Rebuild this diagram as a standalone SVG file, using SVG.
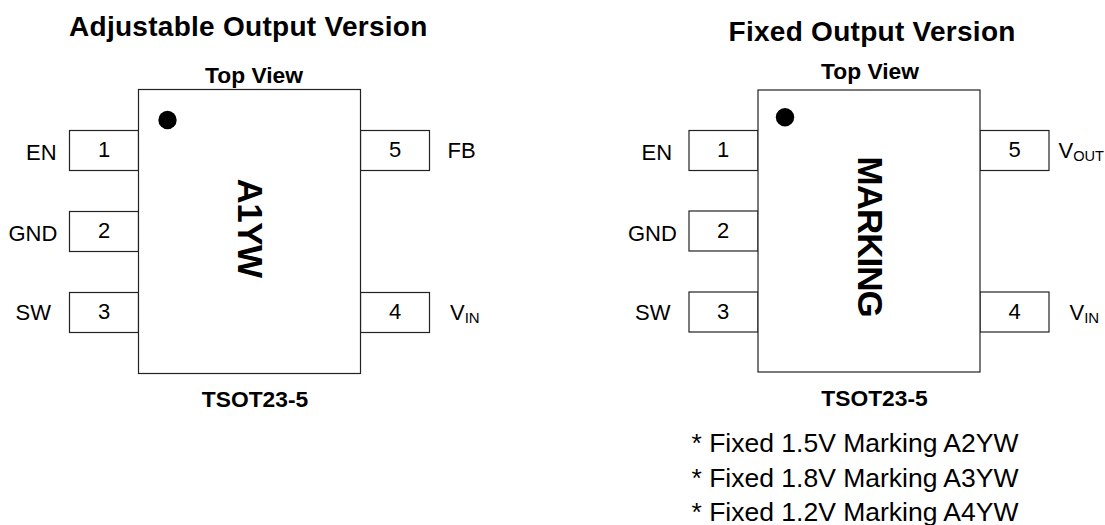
<svg xmlns="http://www.w3.org/2000/svg" width="1105" height="525" viewBox="0 0 1105 525">
<style>
text{font-family:"Liberation Sans",Arial,sans-serif;fill:#000}
.t{font-size:28px;font-weight:bold;letter-spacing:.28px}
.h{font-size:22.8px;font-weight:bold}
.l{font-size:22px}
.m{font-size:35px;font-weight:bold}
.f{font-size:26.5px}
.c{text-anchor:middle}
.s{font-size:15px}
.b{fill:#fff;stroke:#222;stroke-width:1.2}
</style>
<rect width="1105" height="525" fill="#fff"/>
<g id="connectors"></g>
<g id="title-left"><text class="t" x="69" y="35.5">Adjustable Output Version</text></g>
<g id="topview-left"><text class="h c" x="254" y="82.5">Top View</text></g>
<g id="pin1-left"><rect class="b" x="69.5" y="130.5" width="69" height="40"/><text class="l c" x="104" y="157">1</text></g>
<g id="pin2-left"><rect class="b" x="69.5" y="211.5" width="69" height="40"/><text class="l c" x="104" y="237.5">2</text></g>
<g id="pin3-left"><rect class="b" x="69.5" y="292.5" width="69" height="40"/><text class="l c" x="104" y="319">3</text></g>
<g id="pin5-left"><rect class="b" x="360.5" y="130.5" width="69" height="40"/><text class="l c" x="395" y="157">5</text></g>
<g id="pin4-left"><rect class="b" x="360.5" y="292.5" width="69" height="40"/><text class="l c" x="395" y="319">4</text></g>
<g id="body-left"><rect class="b" x="138.5" y="89.5" width="222" height="284"/><circle cx="167.5" cy="120" r="9.2"/>
<text class="m" transform="translate(238 178.5) rotate(90)" style="letter-spacing:-.5px">A1YW</text></g>
<g id="labels-left">
<text class="l" x="26" y="159.5">EN</text><text class="l" x="8.5" y="240.5">GND</text><text class="l" x="15.5" y="320">SW</text>
<text class="l" x="447.5" y="157.5">FB</text><text class="l" x="450" y="320">V<tspan class="s" dy="3">IN</tspan></text>
</g>
<g id="tsot-left"><text class="h c" x="255" y="406.5">TSOT23-5</text></g>

<g id="title-right"><text class="t" x="728.5" y="40.5">Fixed Output Version</text></g>
<g id="topview-right"><text class="h c" x="870" y="78.5">Top View</text></g>
<g id="pin1-right"><rect class="b" x="689" y="130.5" width="69" height="40"/><text class="l c" x="723" y="157">1</text></g>
<g id="pin2-right"><rect class="b" x="689" y="211" width="69" height="40"/><text class="l c" x="723" y="237.5">2</text></g>
<g id="pin3-right"><rect class="b" x="689" y="292" width="69" height="40"/><text class="l c" x="723" y="318.5">3</text></g>
<g id="pin5-right"><rect class="b" x="980" y="130.5" width="69" height="40"/><text class="l c" x="1014.5" y="157">5</text></g>
<g id="pin4-right"><rect class="b" x="980" y="292" width="69" height="40"/><text class="l c" x="1014.5" y="318.5">4</text></g>
<g id="body-right"><rect class="b" x="758" y="90" width="222" height="282"/><circle cx="785" cy="117.3" r="9.2"/>
<text class="m" transform="translate(858 156.5) rotate(90)" style="letter-spacing:-1px">MARKING</text></g>
<g id="labels-right">
<text class="l" x="641.5" y="160">EN</text><text class="l" x="628" y="240.5">GND</text><text class="l" x="635" y="319.5">SW</text>
<text class="l" x="1058.5" y="157.5">V<tspan class="s" dy="3.5" style="font-size:14.6px">OUT</tspan></text><text class="l" x="1069.5" y="319.5">V<tspan class="s" dy="3">IN</tspan></text>
</g>
<g id="tsot-right"><text class="h c" x="874.5" y="406">TSOT23-5</text></g>
<g id="notes">
<text class="f" x="691.5" y="452">* Fixed 1.5V Marking A2YW</text>
<text class="f" x="691.5" y="486.5">* Fixed 1.8V Marking A3YW</text>
<text class="f" x="691.5" y="520.5">* Fixed 1.2V Marking A4YW</text>
</g>
</svg>
